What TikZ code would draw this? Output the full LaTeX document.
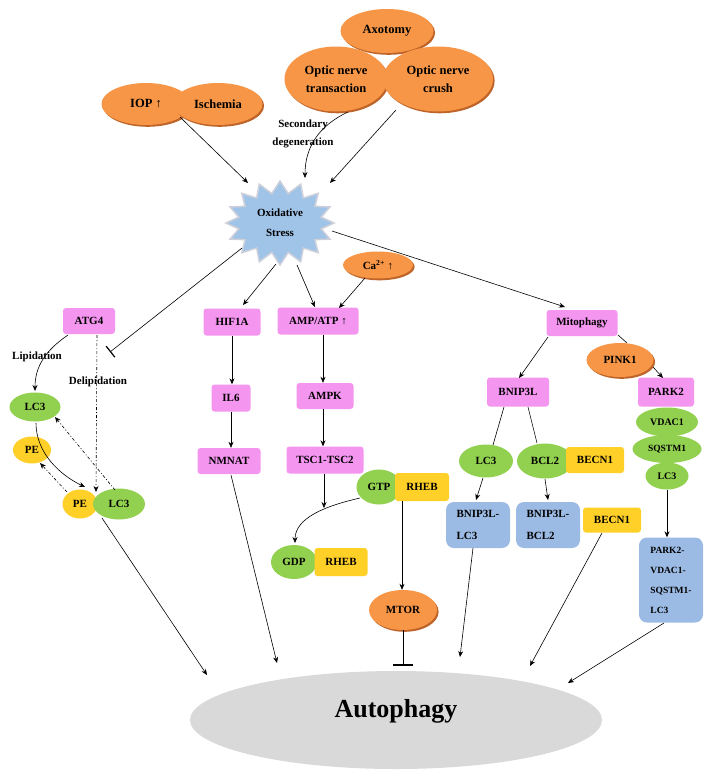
\documentclass[tikz,border=0pt]{standalone}
\usepackage{fontspec}
\setmainfont{Liberation Serif}
\usetikzlibrary{shapes.geometric,shapes.symbols,arrows.meta,calc,shadows}
\definecolor{orng}{RGB}{247,150,70}
\definecolor{orngsh}{RGB}{190,100,40}
\definecolor{pnk}{RGB}{244,150,240}
\definecolor{grn}{RGB}{146,208,80}
\definecolor{ylw}{RGB}{255,208,40}
\definecolor{blu}{RGB}{155,187,228}
\definecolor{starfill}{RGB}{160,195,232}
\definecolor{starline}{RGB}{205,208,218}
\definecolor{gry}{RGB}{217,217,217}
\tikzset{
  base/.style={inner sep=0pt, font=\bfseries\fontsize{11}{13}\selectfont, text=black},
  sz/.style 2 args={minimum width=#1pt, minimum height=#2pt},
  obl/.style={base, ellipse, fill=orng, drop shadow={shadow xshift=1.6pt,shadow yshift=-1.8pt,fill=orngsh,opacity=1}},
  pbox/.style={base, rectangle, rounded corners=3pt, fill=pnk},
  gel/.style={base, ellipse, fill=grn},
  yel/.style={base, ellipse, fill=ylw},
  ybox/.style={base, rectangle, rounded corners=3pt, fill=ylw},
  bbox/.style={base, rectangle, rounded corners=8pt, fill=blu, align=left},
  plain/.style={base, align=center},
  arr/.style={-{Stealth[length=6pt,width=5pt]}, line width=0.6pt},
  ln/.style={line width=0.6pt},
  dd/.style={dash pattern=on 3pt off 2pt on 1pt off 2pt, line width=0.6pt}
}
\begin{document}
\begin{tikzpicture}[x=1pt,y=-1pt]
\useasboundingbox (0,0) rectangle (710,780);
\fill[white] (0,0) rectangle (710,780);

% top causes
\node[obl, sz={89}{42}, font=\bfseries\fontsize{12.5}{18}\selectfont] (iop) at (146,104) {IOP ↑\hspace{28pt}};
\node[obl, sz={89}{42}, font=\bfseries\fontsize{12.5}{18}\selectfont] (isc) at (218,104) {Ischemia};
\node[obl, sz={93}{44}, font=\bfseries\fontsize{12.5}{18}\selectfont] (ax) at (387,31) {Axotomy};
\node[obl, sz={103}{65}, align=center, font=\bfseries\fontsize{12.5}{18}\selectfont] (ont) at (336,79) {Optic nerve\\transaction};
\node[obl, sz={110}{65}, align=center, font=\bfseries\fontsize{12.5}{18}\selectfont] (onc) at (438,79) {Optic nerve\\crush};
\node[plain, font=\bfseries\fontsize{11}{18}\selectfont] (sec) at (303,134) {Secondary\\degeneration};

% oxidative stress
\node[base, starburst, starburst points=16, starburst point height=12pt, random starburst=0,
      sz={108}{84}, fill=starfill, draw=starline, line width=1.5pt, align=center,
      font=\bfseries\fontsize{11}{20}\selectfont] (ox) at (280,223) {Oxidative\\Stress};

\node[obl, sz={70}{27}] (ca) at (378,265) {Ca\textsuperscript{2+} ↑};

% left column
\node[pbox, sz={52}{26}] (atg4) at (89,321) {ATG4};
\node[plain] (lip) at (37,357) {Lipidation};
\node[plain] (delip) at (98,382) {Delipidation};
\node[gel, sz={51}{29}] (lc3a) at (35,407) {LC3};
\node[yel, sz={38}{27}] (pea) at (32,450) {PE};
\node[yel, sz={35}{29}] (peb) at (80,504) {PE};
\node[gel, sz={52}{31}] (lc3b) at (119,504) {LC3};

% HIF column
\node[pbox, sz={57}{27}] (hif) at (232,322) {HIF1A};
\node[pbox, sz={39}{27}] (il6) at (231,398) {IL6};
\node[pbox, sz={63}{26}] (nmnat) at (229,461) {NMNAT};

% AMP column
\node[pbox, sz={81}{27}] (amp) at (318,321) {AMP/ATP ↑};
\node[pbox, sz={57}{26}] (ampk) at (325,396) {AMPK};
\node[pbox, sz={77}{27}] (tsc) at (325,460) {TSC1-TSC2};
\node[gel, sz={45}{35}] (gtp) at (379,487) {GTP};
\node[ybox, sz={54}{28}] (rheba) at (422,487) {RHEB};
\node[gel, sz={46}{34}] (gdp) at (294,562) {GDP};
\node[ybox, sz={53}{28}] (rhebb) at (341,562) {RHEB};
\node[obl, sz={68}{40}] (mtor) at (403,610) {MTOR};

% mitophagy
\node[pbox, sz={71}{26}] (mito) at (582,323) {Mitophagy};
\node[obl, sz={67}{34}] (pink) at (620,360) {PINK1};
\node[pbox, sz={56}{29}] (park) at (666,392) {PARK2};
\node[pbox, sz={62}{29}] (bnip) at (518,392) {BNIP3L};
\node[gel, sz={54}{33}] (lc3c) at (486,461) {LC3};
\node[gel, sz={56}{35}] (bcl) at (545,461) {BCL2};
\node[ybox, sz={58}{26}] (becna) at (595,460) {BECN1};
\node[gel, sz={62}{29}, font=\bfseries\fontsize{10}{12}\selectfont] (vdac) at (667,422) {VDAC1};
\node[gel, sz={69}{28}, font=\bfseries\fontsize{9.5}{12}\selectfont] (sqs) at (667,449) {SQSTM1};
\node[gel, sz={43}{27}, font=\bfseries\fontsize{10}{12}\selectfont] (lc3d) at (667,476) {LC3};
\node[bbox, sz={64}{46}, font=\bfseries\fontsize{11}{22}\selectfont] (blc) at (478,525) {BNIP3L-\\LC3};
\node[bbox, sz={64}{46}, font=\bfseries\fontsize{11}{22}\selectfont] (bbcl) at (548,525) {BNIP3L-\\BCL2};
\node[ybox, sz={58}{25}] (becnb) at (612,520) {BECN1};
\node[bbox, sz={64}{85}, font=\bfseries\fontsize{9.5}{20}\selectfont] (pcx) at (671,580) {PARK2-\\VDAC1-\\SQSTM1-\\LC3};

% autophagy
\node[base, ellipse, sz={412}{98}, fill=gry, font=\bfseries\fontsize{26}{30}\selectfont] (auto) at (396,720) {\raisebox{3pt}[0pt][0pt]{Autophagy}};

% free ends and helper points
\coordinate (inh1) at (110,352);
\coordinate (tscend) at (324,508);
\coordinate (e1) at (207,675);
\coordinate (e2) at (277,663);
\coordinate (e3) at (403,666);
\coordinate (e4) at (460,657);
\coordinate (e5) at (530,666);
\coordinate (e6) at (568,683);
\coordinate (ampb) at ($(amp.south)+(5,0)$);
\coordinate (ampkb) at ($(ampk.south)+(-2,0)$);
\coordinate (rhebb0) at ($(rheba.south)+(-20,0)$);

% edges top
\draw[arr] ($(isc)+(-38,13)$) -- ($(ox)+(-32,-40)$);
\draw[arr] ($(ont)+(12,33)$) .. controls +(-30,14) and +(0,-30) .. ($(ox)+(25,-45)$);
\draw[arr] ($(onc)+(-42,31)$) -- ($(ox)+(50,-40)$);

% from oxidative stress
\draw[arr] ($(ox)+(-4,41)$) -- ($(hif)+(11,-17)$);
\draw[arr] ($(ox)+(17,42)$) -- ($(amp)+(-3,-14)$);
\draw[arr] ($(ca)+(-13,13)$) -- ($(amp)+(21,-13)$);
\draw[ln, -{Bar[width=14pt,line width=1.2pt]}] ($(ox)+(-38,25)$) -- (inh1);
\draw[arr] ($(ox)+(52,8)$) -- ($(mito)+(-17,-16)$);

% left cycle
\draw[arr] ($(atg4)+(-21,14)$) .. controls +(-22,15) and +(0,-25) .. ($(lc3a)+(0,-16)$);
\draw[dd, -{Stealth[length=6pt,width=5pt]}] ($(atg4)+(8,14)$) -- ($(peb)+(16,-12)$);
\draw[arr] ($(lc3a)+(1,16)$) .. controls +(0,30) and +(-25,-12) .. ($(peb)+(5,-17)$);
\draw[dd, -{Stealth[length=6pt,width=5pt]}] ($(peb)+(-13,-12)$) -- ($(pea)+(8,13)$);
\draw[dd, -{Stealth[length=6pt,width=5pt]}] ($(lc3b)+(-4,-14)$) -- ($(lc3a)+(20,10)$);
\draw[arr] ($(lc3b)+(-17,14)$) -- (e1);

% HIF column
\draw[arr] (hif.south) -- (hif.south |- il6.north);
\draw[arr] (il6.south) -- (il6.south |- nmnat.north);
\draw[arr] ($(nmnat)+(2,14)$) -- (e2);

% AMP column
\draw[arr] (ampb) -- (ampb |- ampk.north);
\draw[arr] (ampkb) -- (ampkb |- tsc.north);
\draw[arr] ($(tsc.south)+(-1,0)$) -- (tscend);
\draw[arr] ($(gtp)+(-19,11)$) .. controls +(-35,8) and +(0,-25) .. ($(gdp)+(1,-19)$);
\draw[arr] (rhebb0) -- (rhebb0 |- mtor.north);
\draw[ln, -{Bar[width=20pt,line width=1.6pt]}] (mtor.south) -- (e3);

% mitophagy branch
\draw[arr] ($(mito)+(-34,14)$) -- ($(bnip)+(1,-14)$);
\draw[ln] ($(mito)+(36,12)$) -- ($(pink)+(7,-17)$);
\draw[arr] ($(pink)+(33,7)$) -- ($(park)+(-3,-14)$);
\draw[ln] ($(bnip)+(-14,15)$) -- ($(lc3c)+(7,-16)$);
\draw[arr] ($(lc3c)+(-3,17)$) -- ($(blc)+(-2,-25)$);
\draw[ln] ($(bnip)+(10,15)$) -- ($(bcl)+(-8,-18)$);
\draw[arr] ($(bcl)+(0,18)$) -- ($(bbcl)+(0,-25)$);
\draw[arr] (lc3d.south) -- (lc3d.south |- pcx.north);
\draw[arr] ($(blc)+(-5,23)$) -- (e4);
\draw[arr] ($(becnb)+(-10,13)$) -- (e5);
\draw[arr] ($(pcx)+(-7,43)$) -- (e6);
\end{tikzpicture}
\end{document}
